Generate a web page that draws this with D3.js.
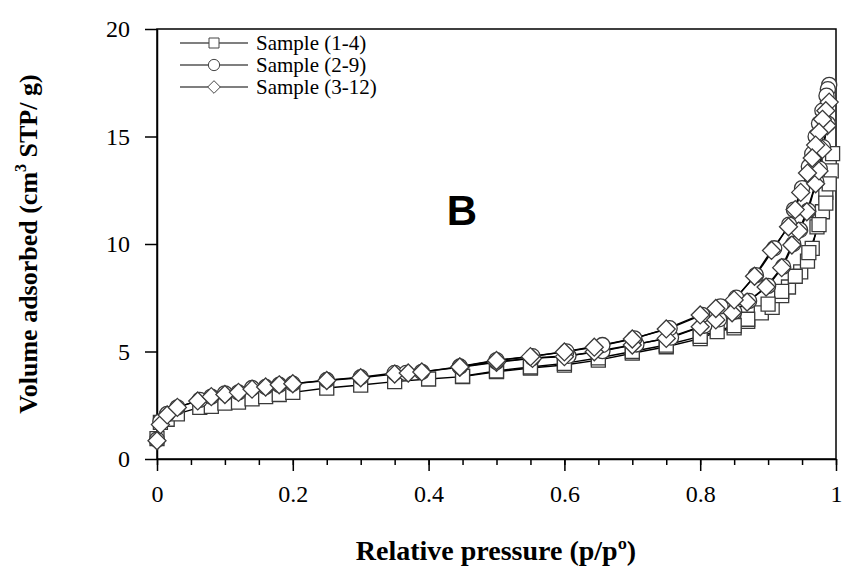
<!DOCTYPE html>
<html lang="en">
<head>
<meta charset="UTF-8">
<title>Isotherm</title>
<style>
body { margin: 0; background: #fff; }
.tick text { font-family: 'Liberation Serif', 'Times New Roman', serif; font-size: 24px; fill: #000; }
.axis path, .axis line { stroke: #000; stroke-width: 1.5; }
.title { font-family: 'Liberation Serif', serif; font-weight: bold; }
.legend text { font-family: 'Liberation Serif', serif; font-size: 21px; }
</style>
</head>
<body>
<div id="chart"></div>
<script src="https://cdnjs.cloudflare.com/ajax/libs/d3/7.8.5/d3.min.js"></script>
<script>
// Sample (1-4): adsorption / desorption
var p14a = [0, 0.005, 0.015, 0.03, 0.063, 0.08, 0.10, 0.12, 0.14, 0.16, 0.18, 0.20, 0.25, 0.30, 0.35, 0.40, 0.45, 0.50, 0.55, 0.60, 0.65, 0.70, 0.75, 0.80, 0.825, 0.85, 0.87, 0.89, 0.906, 0.92, 0.93, 0.948, 0.958, 0.965, 0.972, 0.98, 0.985, 0.99];
var v14a = [0.95, 1.7, 1.85, 2.1, 2.4, 2.45, 2.6, 2.65, 2.8, 2.9, 3.0, 3.1, 3.3, 3.44, 3.6, 3.72, 3.83, 4.06, 4.23, 4.37, 4.6, 4.92, 5.22, 5.6, 5.92, 6.1, 6.4, 6.8, 7.05, 7.6, 8.0, 8.7, 9.2, 9.8, 10.8, 11.5, 12.4, 13.8];
var p14d = [0.995, 0.993, 0.99, 0.985, 0.975, 0.96, 0.94, 0.92, 0.90, 0.87, 0.85, 0.80, 0.75, 0.70, 0.65, 0.60, 0.55, 0.50, 0.45];
var v14d = [14.2, 13.4, 12.8, 11.9, 10.9, 9.6, 8.5, 7.8, 7.2, 6.5, 6.2, 5.7, 5.3, 5.0, 4.7, 4.45, 4.28, 4.1, 3.85];

// Sample (2-9)
var p29a = [0, 0.005, 0.015, 0.03, 0.063, 0.08, 0.10, 0.12, 0.14, 0.16, 0.18, 0.20, 0.25, 0.30, 0.35, 0.367, 0.39, 0.446, 0.50, 0.553, 0.606, 0.656, 0.706, 0.757, 0.806, 0.828, 0.85, 0.872, 0.90, 0.922, 0.937, 0.947, 0.959, 0.971, 0.976, 0.981, 0.988];
var v29a = [0.9, 1.75, 2.1, 2.4, 2.75, 2.9, 3.05, 3.1, 3.3, 3.35, 3.45, 3.5, 3.67, 3.8, 4.0, 4.0, 4.05, 4.29, 4.52, 4.7, 4.8, 5.02, 5.33, 5.65, 6.2, 6.5, 6.85, 7.35, 8.05, 8.95, 10.0, 10.65, 11.55, 12.9, 13.5, 14.5, 15.6];
var p29d = [0.99, 0.988, 0.986, 0.98, 0.975, 0.97, 0.965, 0.96, 0.95, 0.938, 0.931, 0.909, 0.882, 0.853, 0.83, 0.803, 0.755, 0.703, 0.656, 0.603, 0.553, 0.50, 0.446];
var v29d = [17.4, 17.2, 16.9, 16.2, 15.6, 15.0, 14.2, 13.6, 12.6, 11.6, 10.9, 9.8, 8.55, 7.5, 7.1, 6.7, 6.08, 5.61, 5.3, 5.0, 4.78, 4.6, 4.3];

// Sample (3-12)
var p312a = [0, 0.005, 0.015, 0.03, 0.06, 0.08, 0.10, 0.12, 0.14, 0.16, 0.18, 0.20, 0.25, 0.30, 0.35, 0.37, 0.39, 0.446, 0.50, 0.553, 0.60, 0.644, 0.70, 0.75, 0.80, 0.823, 0.847, 0.869, 0.897, 0.92, 0.935, 0.945, 0.957, 0.97, 0.975, 0.98, 0.987];
var v312a = [0.85, 1.6, 2.05, 2.4, 2.7, 2.9, 3.0, 3.1, 3.25, 3.35, 3.45, 3.5, 3.65, 3.78, 3.95, 4.0, 4.05, 4.27, 4.5, 4.68, 4.76, 4.99, 5.3, 5.61, 6.15, 6.47, 6.8, 7.3, 8.0, 8.9, 9.95, 10.6, 11.5, 12.8, 13.4, 14.4, 15.5];
var p312d = [0.99, 0.985, 0.98, 0.975, 0.97, 0.965, 0.958, 0.948, 0.94, 0.93, 0.905, 0.88, 0.85, 0.823, 0.80, 0.75, 0.70, 0.644, 0.60, 0.55, 0.50, 0.446];
var v312d = [16.6, 16.2, 15.8, 15.2, 14.6, 14.0, 13.3, 12.4, 11.6, 10.8, 9.7, 8.5, 7.4, 7.0, 6.7, 6.05, 5.58, 5.2, 4.98, 4.76, 4.58, 4.28];

var labels = ['Sample (1-4)', 'Sample (2-9)', 'Sample (3-12)'];
var xTicks = [0, 0.2, 0.4, 0.6, 0.8, 1];
var yTicks = [0, 5, 10, 15, 20];

var width = 845, height = 567;
var plotL = 157, plotR = 836, plotT = 29, plotB = 459;

var svg = d3.select('#chart').append('svg')
  .attr('width', width)
  .attr('height', height);

var x = d3.scaleLinear().domain([0, 1]).range([plotL, plotR]);
var y = d3.scaleLinear().domain([0, 20]).range([plotB, plotT]);

function zip(px, py) {
  return px.map(function (p, i) { return [p, py[i]]; });
}

// square turned 45 degrees (equal width and height)
var symbolRhomb = {
  draw: function (ctx, size) {
    var r = Math.sqrt(size / 2);
    ctx.moveTo(0, -r);
    ctx.lineTo(r, 0);
    ctx.lineTo(0, r);
    ctx.lineTo(-r, 0);
    ctx.closePath();
  }
};

var series = [
  { label: labels[0], shape: d3.symbolSquare, size: 196, lsize: 100, branches: [zip(p14a, v14a), zip(p14d, v14d)] },
  { label: labels[1], shape: d3.symbolCircle, size: 180, lsize: 100, branches: [zip(p29a, v29a), zip(p29d, v29d)] },
  { label: labels[2], shape: symbolRhomb, size: 162, lsize: 80, branches: [zip(p312a, v312a), zip(p312d, v312d)] }
];

// minor ticks on x
svg.append('g')
  .attr('class', 'axis')
  .attr('transform', 'translate(0,' + plotB + ')')
  .call(d3.axisBottom(x).tickValues(d3.range(0, 1.001, 0.05)).tickSize(6).tickFormat(''))
  .select('.domain').remove();

svg.append('g')
  .attr('class', 'axis')
  .attr('transform', 'translate(0,' + plotB + ')')
  .call(d3.axisBottom(x).tickValues(xTicks).tickSize(12).tickSizeOuter(0).tickPadding(14).tickFormat(d3.format('')));

svg.append('g')
  .attr('class', 'axis')
  .attr('transform', 'translate(' + plotL + ',0)')
  .call(d3.axisLeft(y).tickValues(yTicks).tickSize(12).tickSizeOuter(0).tickPadding(15));

svg.selectAll('.axis').attr('font-family', null).attr('font-size', null);

// frame
svg.append('rect')
  .attr('x', plotL).attr('y', plotT)
  .attr('width', plotR - plotL).attr('height', plotB - plotT)
  .attr('fill', 'none').attr('stroke', '#000').attr('stroke-width', 1.5);

var line = d3.line()
  .x(function (d) { return x(d[0]); })
  .y(function (d) { return y(d[1]); });

series.forEach(function (s) {
  s.branches.forEach(function (b) {
    svg.append('path')
      .attr('d', line(b))
      .attr('fill', 'none')
      .attr('stroke', '#000')
      .attr('stroke-width', 1.4);
  });
});

series.forEach(function (s) {
  var sym = d3.symbol().type(s.shape).size(s.size);
  s.branches.forEach(function (b) {
    svg.append('g').selectAll('path')
      .data(b)
      .enter().append('path')
      .attr('transform', function (d) { return 'translate(' + x(d[0]) + ',' + y(d[1]) + ')'; })
      .attr('d', sym)
      .attr('fill', '#fff')
      .attr('stroke', '#3a3a3a')
      .attr('stroke-width', 1.3);
  });
});

// legend
var legend = svg.selectAll('.legend')
  .data(series)
  .enter().append('g')
  .attr('class', 'legend')
  .attr('transform', function (d, i) { return 'translate(180,' + (43 + i * 22) + ')'; });

legend.append('line')
  .attr('x1', 0).attr('x2', 68)
  .attr('stroke', '#000').attr('stroke-width', 1.2);

legend.append('path')
  .attr('transform', 'translate(34,0)')
  .attr('d', function (d) { return d3.symbol().type(d.shape).size(d.lsize)(); })
  .attr('fill', '#fff').attr('stroke', '#444').attr('stroke-width', 1);

legend.append('text')
  .attr('x', 76).attr('dy', '0.33em')
  .text(function (d) { return d.label; });

// panel letter
svg.append('text')
  .attr('x', 462).attr('y', 225)
  .attr('text-anchor', 'middle')
  .style('font-family', "'Liberation Sans', Arial, sans-serif")
  .style('font-weight', 'bold')
  .style('font-size', '42px')
  .text('B');

// axis titles
svg.append('text')
  .attr('class', 'title')
  .style('font-size', '28px')
  .attr('x', 496).attr('y', 560)
  .attr('text-anchor', 'middle')
  .text('Relative pressure (p/pº)');

var yt = svg.append('text')
  .attr('class', 'title')
  .style('font-size', '26px')
  .attr('transform', 'translate(37,244) rotate(-90)')
  .attr('text-anchor', 'middle');
yt.append('tspan').text('Volume adsorbed (cm');
yt.append('tspan').attr('dy', -11).style('font-size', '16px').text('3');
yt.append('tspan').attr('dy', 11).text(' STP/ g)');
</script>
</body>
</html>
